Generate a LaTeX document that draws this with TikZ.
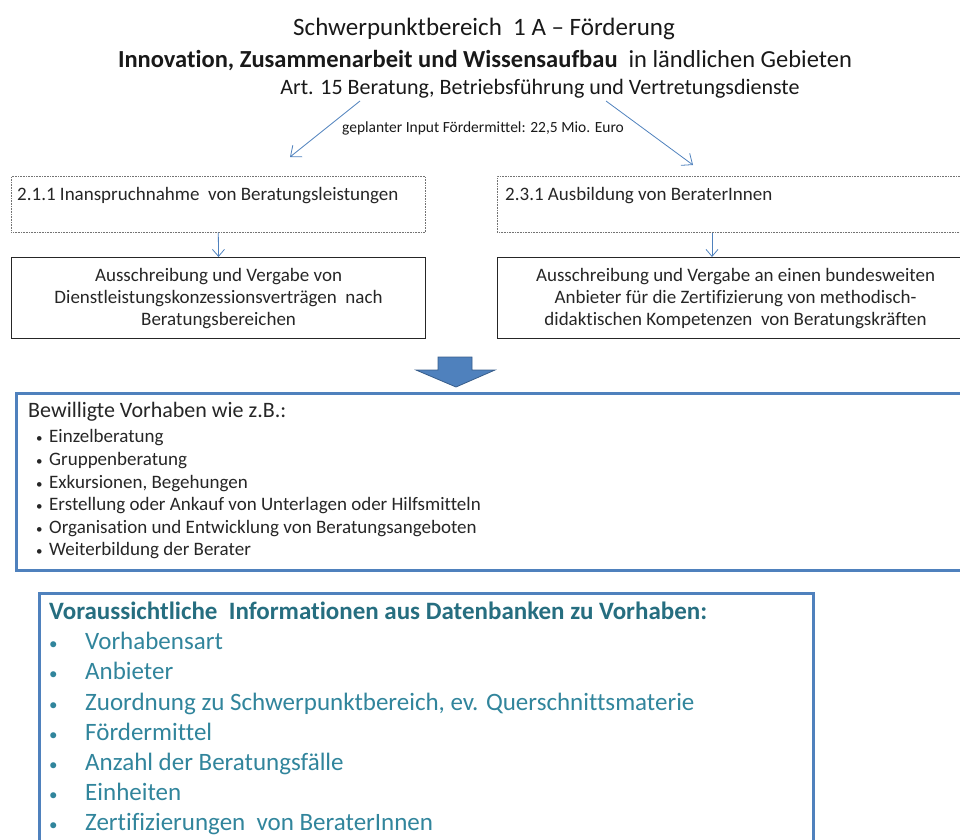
\documentclass[tikz,border=0pt]{standalone}
\usepackage{fontspec}
\setmainfont[Ligatures=NoCommon]{Carlito}
\usepackage{tikz}
\usetikzlibrary{arrows.meta,calc,positioning}
\definecolor{accblue}{RGB}{79,129,189}
\definecolor{accdark}{RGB}{56,93,138}
\definecolor{tealhead}{RGB}{38,110,128}
\definecolor{tealtext}{RGB}{49,133,156}
\newcommand{\bulE}{\makebox[13pt][l]{\fontsize{13}{13}\selectfont •}}
\newcommand{\bulF}{\makebox[36pt][l]{\fontsize{17}{17}\selectfont •}}

\begin{document}
\begin{tikzpicture}[x=1pt,y=-1pt,
	dotbox/.style={draw=black!55,densely dotted,line width=.6pt,anchor=north west,inner sep=0pt},
	solidbox/.style={draw=black!85,line width=1.1pt,anchor=north west,inner sep=0pt,align=center,font=\fontsize{19}{22}\selectfont,text=black!85},
	bluebox/.style={draw=accblue,line width=3pt,fill=white,anchor=north west,inner sep=0pt},
	thinarrow/.style={accblue,line width=.8pt,-{Straight Barb[length=9pt,width=15pt]}},
	smallarrow/.style={accblue,line width=.8pt,-{Straight Barb[length=7pt,width=12pt]}},
	boxlabel/.style={anchor=base west,inner sep=0pt,font=\fontsize{19}{22}\selectfont,text=black!85},
	itemE/.style={anchor=base west,inner sep=0pt,font=\fontsize{19}{22}\selectfont,text=black!85},
	itemF/.style={anchor=base west,inner sep=0pt,font=\fontsize{25}{30}\selectfont,text=tealtext}]
		\useasboundingbox (0,0) rectangle (960,839);
		\clip (0,0) rectangle (960,839);
		\node[anchor=base,inner sep=0pt,font=\fontsize{25}{30}\selectfont,text=black!90] (head) at (484,35) {Schwerpunktbereich\ \ 1 A -- Förderung};
		\node[anchor=base,inner sep=0pt,font=\fontsize{24.5}{30}\selectfont,text=black!90] (topic) at (485,67) {{\bfseries Innovation, Zusammenarbeit und Wissensaufbau}\ \ in ländlichen Gebieten};
		\node[anchor=base,inner sep=0pt,font=\fontsize{22}{26}\selectfont,text=black!90] (art) at (540,94) {Art. 15 Beratung, Betriebsführung und Vertretungsdienste};
		\node[anchor=base,inner sep=0pt,font=\fontsize{15.5}{18}\selectfont,text=black!90] (input) at (483,132) {geplanter Input Fördermittel: 22,5 Mio. Euro};
		\coordinate (forkl) at (360,101);
		\coordinate (forkr) at (606,101);
		\coordinate (tipl) at (290,157);
		\coordinate (tipr) at (693,165);
		\draw[thinarrow] (forkl) -- (tipl);
		\draw[thinarrow] (forkr) -- (tipr);
		\node[dotbox,minimum width=414pt,minimum height=56pt] (ina) at (11,176) {};
		\node[boxlabel] (inatext) at (17,200) {2.1.1 Inanspruchnahme\ \ von Beratungsleistungen};
		\node[dotbox,minimum width=476pt,minimum height=56pt] (inb) at (497,176) {};
		\node[boxlabel] (inbtext) at (505,200) {2.3.1 Ausbildung von BeraterInnen};
		\node[solidbox,minimum width=414pt,minimum height=81pt] (vga) at (11,257) {Ausschreibung und Vergabe von\\Dienstleistungskonzessionsverträgen\ \ nach\\Beratungsbereichen};
		\node[solidbox,minimum width=476pt,minimum height=81pt] (vgb) at (497,257) {Ausschreibung und Vergabe an einen bundesweiten\\Anbieter für die Zertifizierung von methodisch-\\didaktischen Kompetenzen\ \ von Beratungskräften};
		\coordinate (colb) at (712,0);
		\draw[smallarrow] (ina.south) -- (vga.north);
		\draw[smallarrow] (inb.south -| colb) -- (vgb.north -| colb);
		\draw[fill=accblue,draw=accdark,line width=.8pt] (438,357) -- (472,357) -- (472,370) -- (495,370) -- (456,387) -- (416,370) -- (438,370) -- cycle;
		\node[bluebox,minimum width=960pt,minimum height=177pt] (bew) at (15,392) {};
		\node[anchor=base west,inner sep=0pt,font=\fontsize{22}{26}\selectfont,text=black!85] (bewhead) at (28,417) {Bewilligte Vorhaben wie z.B.:};
		\node[itemE] (e1) at (36,442) {\bulE Einzelberatung};
		\node[itemE] (e2) at (36,465) {\bulE Gruppenberatung};
		\node[itemE] (e3) at (36,488) {\bulE Exkursionen, Begehungen};
		\node[itemE] (e4) at (36,510) {\bulE Erstellung oder Ankauf von Unterlagen oder Hilfsmitteln};
		\node[itemE] (e5) at (36,533) {\bulE Organisation und Entwicklung von Beratungsangeboten};
		\node[itemE] (e6) at (36,555) {\bulE Weiterbildung der Berater};
		\node[bluebox,minimum width=774pt,minimum height=300pt] (info) at (38,592) {};
		\node[anchor=base west,inner sep=0pt,font=\bfseries\fontsize{25}{30}\selectfont,text=tealhead] (infohead) at (49,619) {Voraussichtliche\ \ Informationen aus Datenbanken zu Vorhaben:};
		\node[itemF] (f1) at (49,649) {\bulF Vorhabensart};
		\node[itemF] (f2) at (49,679) {\bulF Anbieter};
		\node[itemF] (f3) at (49,710) {\bulF Zuordnung zu Schwerpunktbereich, ev. Querschnittsmaterie};
		\node[itemF] (f4) at (49,740) {\bulF Fördermittel};
		\node[itemF] (f5) at (49,770) {\bulF Anzahl der Beratungsfälle};
		\node[itemF] (f6) at (49,800) {\bulF Einheiten};
		\node[itemF] (f7) at (49,830) {\bulF Zertifizierungen\ \ von BeraterInnen};
\end{tikzpicture}
\end{document}
